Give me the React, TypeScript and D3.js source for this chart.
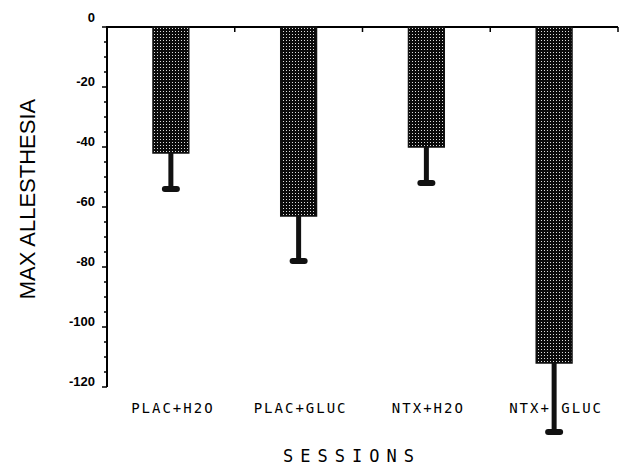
import { useEffect, useRef } from 'react';
import * as d3 from 'd3';

const categories = ['PLAC+H2O', 'PLAC+GLUC', 'NTX+H2O', 'NTX+ GLUC'];
const means = [-42, -63, -40, -112];
const errors = [12, 15, 12, 23];
const yTicks = [0, -20, -40, -60, -80, -100, -120];

export default function App() {
  const svgRef = useRef<SVGSVGElement>(null);

  useEffect(() => {
    const width = 622;
    const height = 466;
    const svg = d3.select(svgRef.current);
    svg.selectAll('*').remove();
    svg.attr('width', width).attr('height', height);

    // stipple fill like the old print
    const defs = svg.append('defs');
    const pat = defs
      .append('pattern')
      .attr('id', 'stipple')
      .attr('patternUnits', 'userSpaceOnUse')
      .attr('width', 3)
      .attr('height', 3);
    pat.append('rect').attr('width', 3).attr('height', 3).attr('fill', '#0a0a0a');
    pat.append('rect').attr('x', 1).attr('y', 1).attr('width', 1).attr('height', 1).attr('fill', '#ddd');

    const x = d3.scaleBand().domain(categories).range([107, 618]).padding(0);
    const y = d3.scaleLinear().domain([0, -120]).range([27, 387]);
    const barW = x.bandwidth() * 0.28;

    // top axis line with ticks at band edges
    svg
      .append('line')
      .attr('x1', 106)
      .attr('x2', 618)
      .attr('y1', y(0))
      .attr('y2', y(0))
      .attr('stroke', '#000')
      .attr('stroke-width', 2);
    categories.forEach((c) => {
      const ex = (x(c) as number) + x.bandwidth();
      svg
        .append('line')
        .attr('x1', ex)
        .attr('x2', ex)
        .attr('y1', y(0))
        .attr('y2', y(0) + 5)
        .attr('stroke', '#000')
        .attr('stroke-width', 1.5);
    });

    // left axis
    svg
      .append('line')
      .attr('x1', 107)
      .attr('x2', 107)
      .attr('y1', y(0))
      .attr('y2', y(-120))
      .attr('stroke', '#000')
      .attr('stroke-width', 2);
    d3.range(0, -121, -5).forEach((v) => {
      svg
        .append('line')
        .attr('x1', v % 20 === 0 ? 102 : 104)
        .attr('x2', 107)
        .attr('y1', y(v))
        .attr('y2', y(v))
        .attr('stroke', '#000')
        .attr('stroke-width', 1.5);
    });
    svg
      .selectAll('.ylab')
      .data(yTicks)
      .enter()
      .append('text')
      .attr('x', 95)
      .attr('y', (d) => y(d) - (d === 0 ? 5 : 1))
      .attr('text-anchor', 'end')
      .attr('font-family', 'Liberation Sans, Arial, sans-serif')
      .attr('font-weight', 'bold')
      .attr('font-size', 13)
      .attr('fill', '#000')
      .text((d) => String(d));

    // axis titles
    svg
      .append('text')
      .attr('transform', 'translate(35, 199) rotate(-90)')
      .attr('text-anchor', 'middle')
      .attr('font-family', 'Liberation Sans, Arial, sans-serif')
      .attr('font-size', 22)
      .attr('fill', '#000')
      .text('MAX ALLESTHESIA');

    svg
      .append('text')
      .attr('x', 352)
      .attr('y', 462)
      .attr('text-anchor', 'middle')
      .attr('font-family', 'DejaVu Sans Mono, monospace')
      .attr('font-size', 17)
      .attr('letter-spacing', 7)
      .attr('fill', '#000')
      .text('SESSIONS');

    // category labels
    svg
      .selectAll('.xlab')
      .data(categories)
      .enter()
      .append('text')
      .attr('x', (d) => (x(d) as number) + x.bandwidth() / 2 + 2)
      .attr('y', 413)
      .attr('text-anchor', 'middle')
      .attr('font-family', 'DejaVu Sans Mono, monospace')
      .attr('font-size', 14)
      .attr('letter-spacing', 2)
      .attr('fill', '#000')
      .text((d) => d);

    const g = svg
      .selectAll('.bar')
      .data(categories)
      .enter()
      .append('g');

    g.append('rect')
      .attr('x', (d) => (x(d) as number) + x.bandwidth() / 2 - barW / 2)
      .attr('y', y(0))
      .attr('width', barW)
      .attr('height', (d, i) => y(means[i]) - y(0))
      .attr('fill', 'url(#stipple)')
      .attr('stroke', '#111')
      .attr('stroke-width', 1.5);

    // error bars (downward only)
    g.append('line')
      .attr('x1', (d) => (x(d) as number) + x.bandwidth() / 2)
      .attr('x2', (d) => (x(d) as number) + x.bandwidth() / 2)
      .attr('y1', (d, i) => y(means[i]))
      .attr('y2', (d, i) => y(means[i] - errors[i]))
      .attr('stroke', '#111')
      .attr('stroke-width', 5);
    g.append('rect')
      .attr('x', (d) => (x(d) as number) + x.bandwidth() / 2 - 9)
      .attr('y', (d, i) => y(means[i] - errors[i]) - 3)
      .attr('width', 18)
      .attr('height', 6)
      .attr('rx', 3)
      .attr('fill', '#111');
  }, []);

  return (
    <svg
      ref={svgRef}
      style={{ position: 'absolute', left: 0, top: 0, display: 'block', background: '#fff' }}
    ></svg>
  );
}
